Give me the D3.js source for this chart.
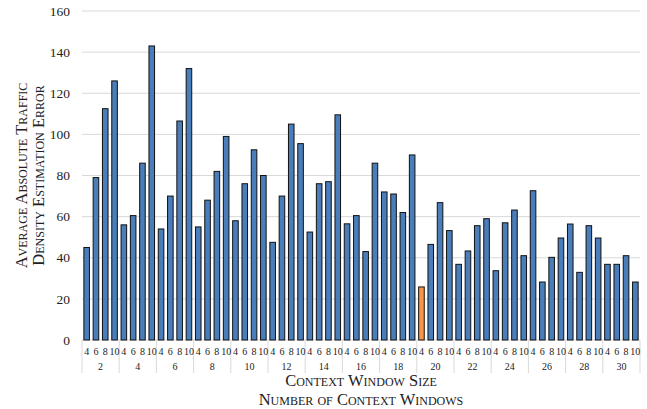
<!DOCTYPE html>
<html>
<head>
<meta charset="utf-8">
<script src="https://cdn.jsdelivr.net/npm/d3@7"></script>
<style>
  body { margin: 0; background: #fff; }
  svg text { font-family: "Liberation Serif", "Times New Roman", serif; fill: #222; }
  .title { font-variant: small-caps; }
</style>
</head>
<body>
<svg id="chart" width="647" height="409"></svg>
<script>
// number of context windows (outer) and context window sizes (inner)
const windowCounts = ['2', '4', '6', '8', '10', '12', '14', '16', '18', '20', '22', '24', '26', '28', '30'];
const windowSizes = ['4', '6', '8', '10'];

// one row per window count, values for sizes 4, 6, 8, 10
const errorValues = [
  [45, 79, 112.5, 126],
  [56, 60.5, 86, 143],
  [54, 70, 106.5, 132],
  [55, 68, 82, 99],
  [58, 76, 92.5, 80],
  [47.5, 70, 105, 95.5],
  [52.5, 76, 77, 109.5],
  [56.5, 60.5, 43, 86],
  [72, 71, 62, 90],
  [25.8, 46.5, 66.8, 53.2],
  [36.8, 43.3, 55.6, 59],
  [33.7, 57, 63.2, 41],
  [72.6, 28.2, 40.2, 49.6],
  [56.4, 32.9, 55.6, 49.6],
  [36.8, 36.8, 41, 28.2]
];
const bestPoint = { count: '20', size: '4' };
const yTicks = [0, 20, 40, 60, 80, 100, 120, 140, 160];

const svg = d3.select('#chart');
const margin = { top: 11, left: 82, right: 7, bottom: 69 };
const width = 647 - margin.left - margin.right;
const plotH = 409 - margin.top - margin.bottom;

const g = svg.append('g').attr('transform', `translate(${margin.left},${margin.top})`);

const x0 = d3.scaleBand().domain(windowCounts).range([0, width]);
const x1 = d3.scaleBand().domain(windowSizes).range([0, x0.bandwidth()]).paddingInner(0.4).paddingOuter(0.2);
const y = d3.scaleLinear().domain([0, 160]).range([plotH, 0]);

// gridlines
g.append('g')
  .selectAll('line')
  .data(yTicks)
  .join('line')
  .attr('x1', 0)
  .attr('x2', width)
  .attr('y1', d => y(d))
  .attr('y2', d => y(d))
  .attr('stroke', '#d9d9d9')
  .attr('stroke-width', 1);

// y tick labels
g.append('g')
  .selectAll('text')
  .data(yTicks)
  .join('text')
  .attr('x', -12)
  .attr('y', d => y(d))
  .attr('dy', '0.35em')
  .attr('text-anchor', 'end')
  .style('font-size', '13.5px')
  .text(d => d);

// bars
const rows = [];
windowCounts.forEach((c, i) => {
  windowSizes.forEach((s, j) => rows.push({ count: c, size: s, value: errorValues[i][j] }));
});

g.append('g')
  .selectAll('rect')
  .data(rows)
  .join('rect')
  .attr('x', d => x0(d.count) + x1(d.size))
  .attr('y', d => y(d.value))
  .attr('width', x1.bandwidth())
  .attr('height', d => y(0) - y(d.value))
  .attr('fill', d => (d.count === bestPoint.count && d.size === bestPoint.size) ? '#f79646' : '#4a7ebb')
  .attr('stroke', '#111')
  .attr('stroke-width', 1);

// multi-level category axis
const axis = g.append('g').attr('transform', `translate(0,${plotH})`);
const seps = windowCounts.map(c => x0(c)).concat([width]);
axis.selectAll('line.sep')
  .data(seps)
  .join('line')
  .attr('class', 'sep')
  .attr('x1', d => d)
  .attr('x2', d => d)
  .attr('y1', 0)
  .attr('y2', 33)
  .attr('stroke', '#d9d9d9');

axis.selectAll('text.sub')
  .data(rows)
  .join('text')
  .attr('class', 'sub')
  .attr('x', d => x0(d.count) + x1(d.size) + x1.bandwidth() / 2)
  .attr('y', 15)
  .attr('text-anchor', 'middle')
  .style('font-size', '10px')
  .text(d => d.size);

axis.selectAll('text.grp')
  .data(windowCounts)
  .join('text')
  .attr('class', 'grp')
  .attr('x', d => x0(d) + x0.bandwidth() / 2)
  .attr('y', 30)
  .attr('text-anchor', 'middle')
  .style('font-size', '10px')
  .text(d => d);

// axis titles
svg.append('text')
  .attr('class', 'title')
  .attr('x', margin.left + width / 2)
  .attr('y', 386)
  .attr('text-anchor', 'middle')
  .style('font-size', '16.5px')
  .text('Context Window Size');
svg.append('text')
  .attr('class', 'title')
  .attr('x', margin.left + width / 2)
  .attr('y', 405)
  .attr('text-anchor', 'middle')
  .style('font-size', '16.5px')
  .text('Number of Context Windows');

const yTitle = svg.append('text')
  .attr('class', 'title')
  .attr('transform', `translate(27,${margin.top + plotH / 2}) rotate(-90)`)
  .attr('text-anchor', 'middle')
  .style('font-size', '16.5px');
yTitle.append('tspan').attr('x', 0).attr('dy', 0).text('Average Absolute Traffic');
yTitle.append('tspan').attr('x', 0).attr('dy', 17).text('Density Estimation Error');
</script>
</body>
</html>
